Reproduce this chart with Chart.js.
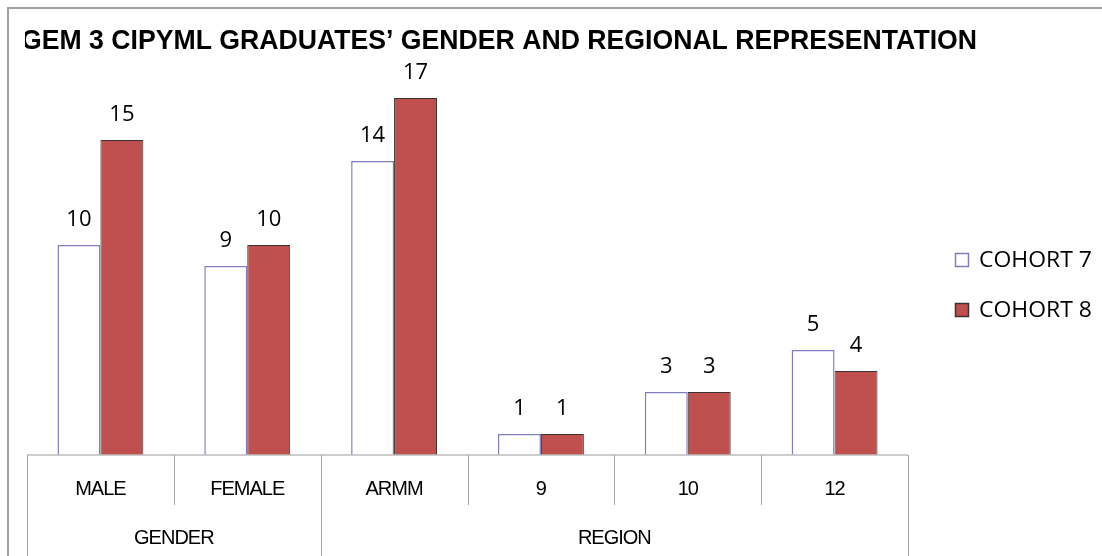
<!DOCTYPE html>
<html>
<head>
<meta charset="utf-8">
<script src="https://cdn.jsdelivr.net/npm/chart.js@4.4.0/dist/chart.umd.min.js"></script>
<style>
html, body { margin: 0; padding: 0; background: #fff; }
#wrap { width: 1102px; height: 556px; }
</style>
</head>
<body>
<div id="wrap"><canvas id="c" width="1102" height="556"></canvas></div>
<script>
var categories = ['MALE', 'FEMALE', 'ARMM', '9', '10', '12'];
var groupNames = ['GENDER', 'REGION'];
var groupStart = [0, 2];
var groupEnd = [1, 5];
var cohort7 = [10, 9, 14, 1, 3, 5];
var cohort8 = [15, 10, 17, 1, 3, 4];
var seriesNames = ['COHORT 7', 'COHORT 8'];
var titleText = 'GEM 3 CIPYML GRADUATES\u2019 GENDER AND REGIONAL REPRESENTATION';

var c7Fill = '#ffffff', c7Line = '#7f7fbf';
var c8Fill = '#c0504d', c8Line = '#3c3232';

// draws text squeezed/stretched to a width
function fitText(ctx, txt, x, y, w) {
	var m = ctx.measureText(txt).width;
	ctx.save();
	ctx.translate(x, y);
	ctx.scale(w / m, 1);
	ctx.fillText(txt, 0, 0);
	ctx.restore();
}

var framePlugin = {
	id: 'frame',
	beforeDraw: function (chart) {
		var ctx = chart.ctx;
		ctx.save();
		ctx.fillStyle = '#fff';
		ctx.fillRect(0, 0, chart.width, chart.height);
		ctx.strokeStyle = '#a0a0a0';
		ctx.lineWidth = 2;
		ctx.beginPath();
		ctx.moveTo(8, chart.height + 5);
		ctx.lineTo(8, 8);
		ctx.lineTo(chart.width + 5, 8);
		ctx.stroke();
		ctx.restore();
	}
};

var titlePlugin = {
	id: 'titleDraw',
	afterDraw: function (chart) {
		var ctx = chart.ctx;
		ctx.save();
		ctx.beginPath();
		ctx.rect(25, 10, chart.width, 60);
		ctx.clip();
		ctx.fillStyle = '#000';
		ctx.font = 'bold 28px "Liberation Sans", Arial, sans-serif';
		ctx.textBaseline = 'alphabetic';
		ctx.textAlign = 'left';
		fitText(ctx, titleText, 21, 49, 956);
		ctx.restore();
	}
};

var labelPlugin = {
	id: 'barLabels',
	afterDatasetsDraw: function (chart) {
		var ctx = chart.ctx;
		ctx.save();
		ctx.fillStyle = '#000';
		ctx.font = '22px "Open Sans", "Noto Sans", sans-serif';
		ctx.textAlign = 'center';
		ctx.textBaseline = 'middle';
		chart.data.datasets.forEach(function (ds, i) {
			chart.getDatasetMeta(i).data.forEach(function (bar, j) {
				ctx.fillText(String(ds.data[j]), bar.x, bar.y - 25);
			});
		});
		ctx.restore();
	}
};

var axisPlugin = {
	id: 'catAxis',
	afterDraw: function (chart) {
		var ctx = chart.ctx, xs = chart.scales.x, area = chart.chartArea;
		var step = (area.right - area.left) / categories.length;
		var y0 = area.bottom;
		ctx.save();
		ctx.strokeStyle = '#bdbdbd';
		ctx.lineWidth = 1.5;
		ctx.beginPath();
		ctx.moveTo(area.left, y0);
		ctx.lineTo(area.right, y0);
		ctx.stroke();
		ctx.strokeStyle = '#a6a6a6';
		ctx.lineWidth = 1;
		for (var i = 0; i <= categories.length; i++) {
			var bx = Math.round((i < categories.length ? xs.getPixelForValue(i) - step / 2 : xs.getPixelForValue(i - 1) + step / 2)) + 0.5;
			var isGroupEdge = groupStart.indexOf(i) >= 0 || i === categories.length;
			ctx.beginPath();
			ctx.moveTo(bx, y0);
			ctx.lineTo(bx, isGroupEdge ? chart.height : y0 + 50);
			ctx.stroke();
		}
		ctx.fillStyle = '#000';
		ctx.font = '20px "Liberation Sans", Arial, sans-serif';
		ctx.letterSpacing = '-1px';
		ctx.textAlign = 'center';
		ctx.textBaseline = 'middle';
		categories.forEach(function (cat, i) {
			ctx.fillText(cat, xs.getPixelForValue(i), y0 + 34);
		});
		groupNames.forEach(function (g, k) {
			var gx = (xs.getPixelForValue(groupStart[k]) + xs.getPixelForValue(groupEnd[k])) / 2;
			ctx.fillText(g, gx, y0 + 83);
		});
		ctx.restore();
	}
};

var legendPlugin = {
	id: 'sideLegend',
	afterDraw: function (chart) {
		var ctx = chart.ctx;
		var fills = [c7Fill, c8Fill], lines = [c7Line, c8Line];
		ctx.save();
		ctx.font = '21px "Open Sans", "Noto Sans", sans-serif';
		ctx.textBaseline = 'middle';
		ctx.textAlign = 'left';
		seriesNames.forEach(function (name, i) {
			var y = 253 + i * 50;
			ctx.fillStyle = fills[i];
			ctx.fillRect(955, y, 14, 14);
			ctx.strokeStyle = lines[i];
			ctx.lineWidth = 1.5;
			ctx.strokeRect(955.5, y + 0.5, 13, 13);
			ctx.fillStyle = '#000';
			fitText(ctx, name, 979, y + 8, 113);
		});
		ctx.restore();
	}
};

new Chart(document.getElementById('c'), {
	type: 'bar',
	data: {
		labels: categories,
		datasets: [
			{
				label: seriesNames[0],
				data: cohort7,
				backgroundColor: c7Fill,
				borderColor: c7Line,
				borderWidth: 1.5,
				categoryPercentage: 0.585,
				barPercentage: 1
			},
			{
				label: seriesNames[1],
				data: cohort8,
				backgroundColor: c8Fill,
				borderColor: c8Line,
				borderWidth: 1,
				categoryPercentage: 0.585,
				barPercentage: 1
			}
		]
	},
	options: {
		responsive: false,
		animation: false,
		layout: { padding: { left: 27, right: 194, top: 35, bottom: 101 } },
		scales: {
			x: { display: false, grid: { display: false } },
			y: { display: false, min: 0, max: 20 }
		},
		plugins: {
			legend: { display: false },
			title: { display: false },
			tooltip: { enabled: false }
		}
	},
	plugins: [framePlugin, titlePlugin, labelPlugin, axisPlugin, legendPlugin]
});
</script>
</body>
</html>
